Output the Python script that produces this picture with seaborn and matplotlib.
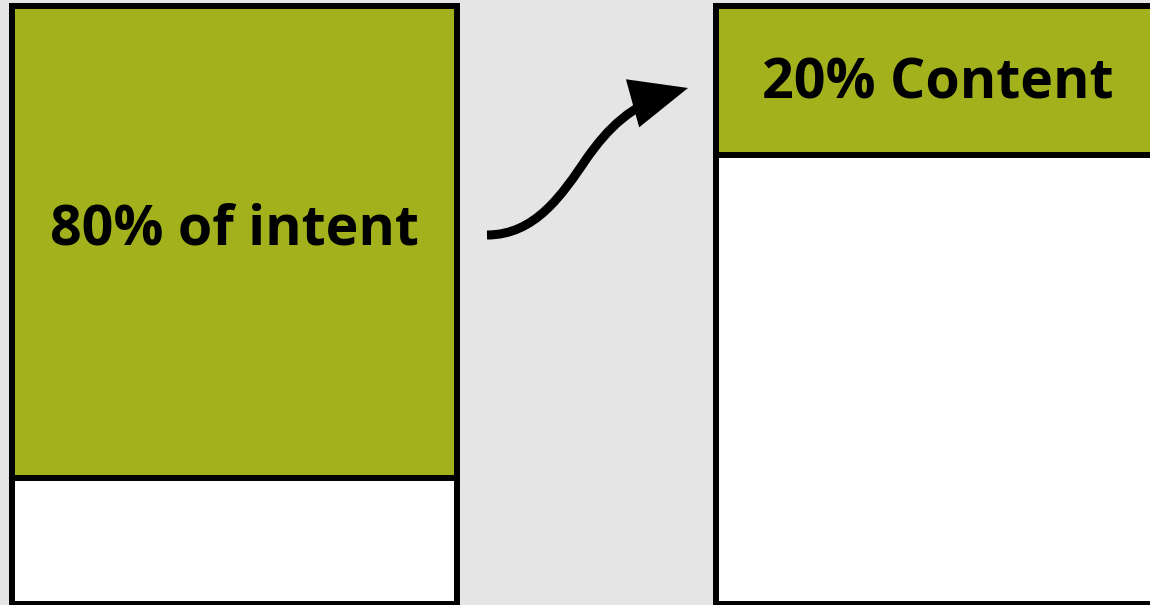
import matplotlib
matplotlib.use("Agg")
import matplotlib.pyplot as plt
import seaborn as sns
import pandas as pd
from matplotlib.path import Path
from matplotlib.patches import FancyArrowPatch

# ---- data ----
categories = ["intent", "content"]
totals = [100, 100]
green_share = [79, 25]
labels = ["80% of intent", "20% Content"]

GREEN = "#a3b11c"
BG = "#e5e5e5"

sns.set_theme(style="white")
plt.rcParams["font.family"] = ["Open Sans", "DejaVu Sans"]

df = pd.DataFrame({"cat": categories, "total": totals, "share": green_share})

fig = plt.figure(figsize=(11.5, 6.05), dpi=100)
fig.patch.set_facecolor(BG)
ax = fig.add_axes([0, 0, 1, 1])
ax.set_facecolor(BG)

bar_w = 0.632
sns.barplot(data=df, x="cat", y="total", color="white", saturation=1,
            width=bar_w, edgecolor="black", linewidth=4.3, ax=ax)
sns.barplot(data=df, x="cat", y="share", color=GREEN, saturation=1,
            width=bar_w, edgecolor="black", linewidth=4.3, ax=ax)

ax.set_xlim(-0.3337, 1.301)
ax.set_ylim(100.25, -0.92)
ax.axis("off")

label_y = [40.0, 15.6]
for i, (lab, y) in enumerate(zip(labels, label_y)):
    ax.text(i, y, lab, ha="center", va="baseline", fontsize=40,
            fontweight="bold", color="black")

# curved arrow between the bars (axes-fraction coordinates)
def P(x, y):
    return (x / 1150, 1 - y / 605)

verts = [P(487, 235), P(535, 235), P(562, 195), P(587, 158),
         P(607, 130), P(630, 104), P(688, 88)]
codes = [Path.MOVETO, Path.CURVE4, Path.CURVE4, Path.CURVE4,
         Path.CURVE4, Path.CURVE4, Path.CURVE4]
arrow = FancyArrowPatch(path=Path(verts, codes), transform=ax.transAxes,
                        arrowstyle="-|>,head_length=1.5,head_width=0.65",
                        mutation_scale=20, lw=6.5, color="black",
                        capstyle="butt", joinstyle="miter")
ax.add_patch(arrow)

fig.savefig("out.png", dpi=100, facecolor=BG)
